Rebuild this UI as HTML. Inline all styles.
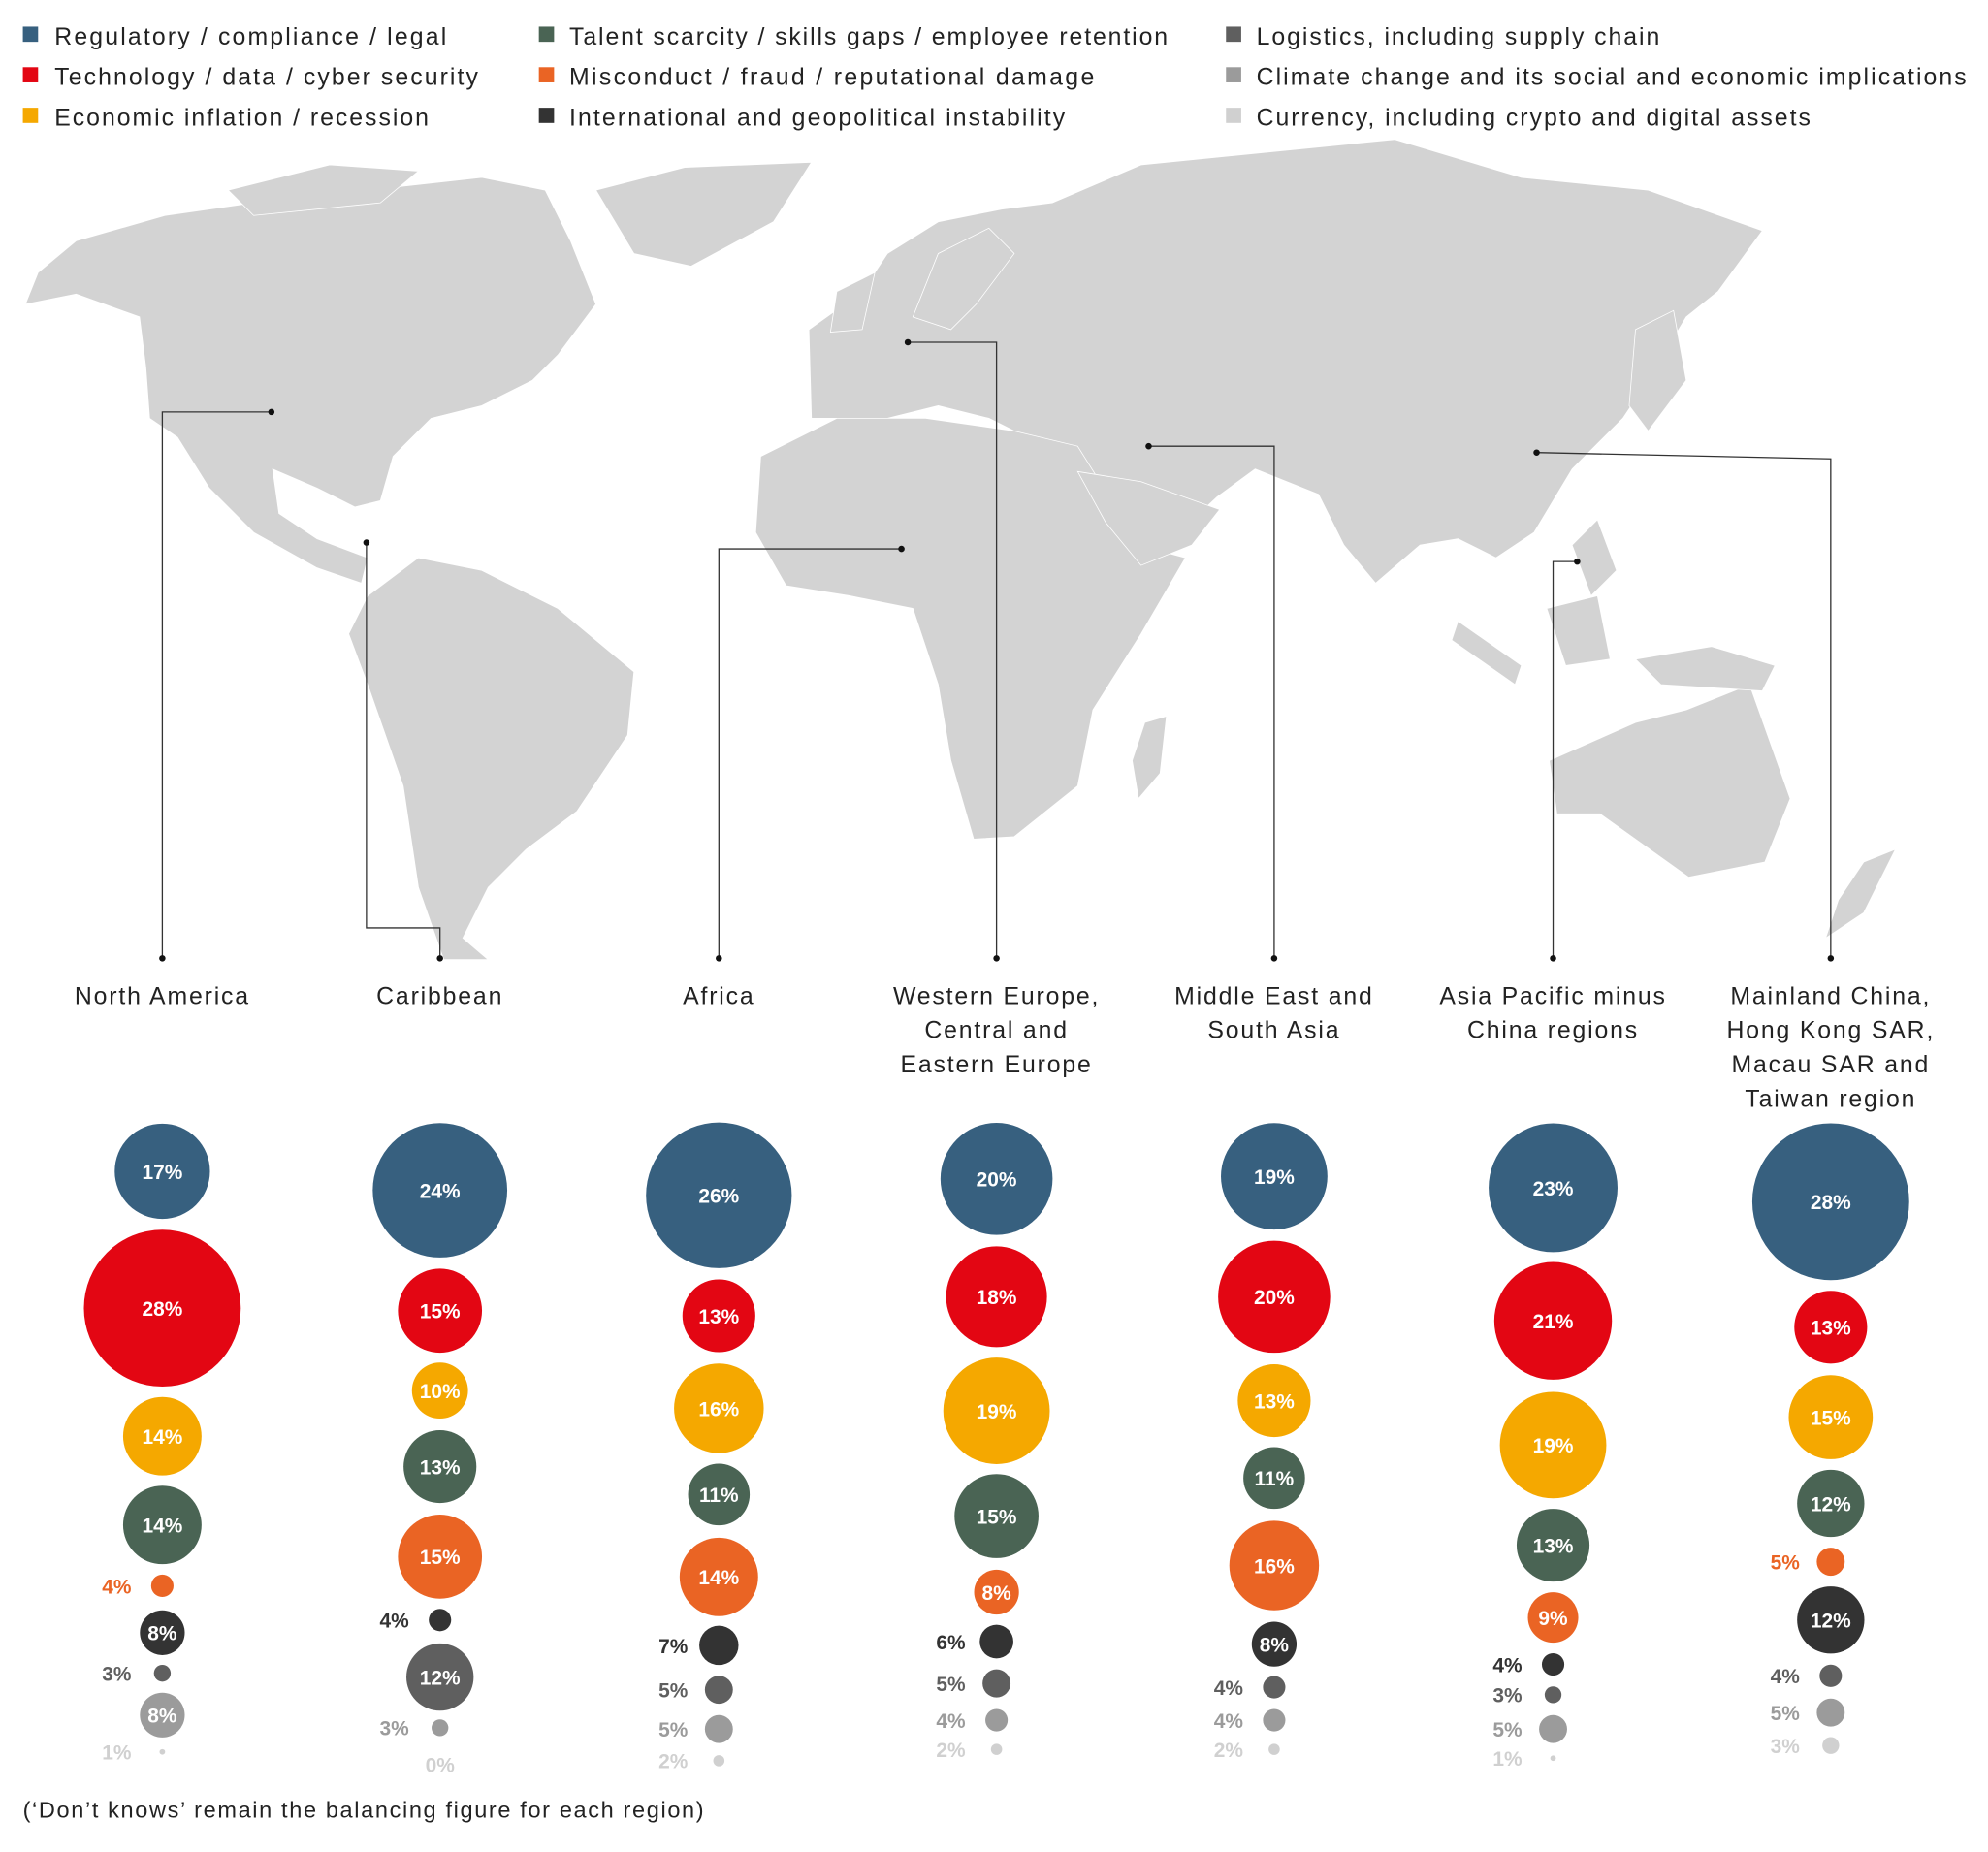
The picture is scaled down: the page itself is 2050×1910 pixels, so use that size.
<!DOCTYPE html>
<html><head><meta charset="utf-8"><style>
html,body{margin:0;padding:0;background:#fff}
svg{display:block}
text{font-family:"Liberation Sans",sans-serif}
</style></head><body>
<svg width="2050" height="1910" viewBox="0 0 1568 1461" xmlns="http://www.w3.org/2000/svg">
<!-- legend -->
<g font-size="19" fill="#222" lengthAdjust="spacing">
<rect x="18" y="21" width="12" height="12" fill="#37607f"/><text x="43" y="35" textLength="309">Regulatory / compliance / legal</text>
<rect x="18" y="53" width="12" height="12" fill="#e30613"/><text x="43" y="67" textLength="334">Technology / data / cyber security</text>
<rect x="18" y="85" width="12" height="12" fill="#f5a800"/><text x="43" y="99" textLength="295">Economic inflation / recession</text>
<rect x="425" y="21" width="12" height="12" fill="#4a6454"/><text x="449" y="35" textLength="472">Talent scarcity / skills gaps / employee retention</text>
<rect x="425" y="53" width="12" height="12" fill="#ea6424"/><text x="449" y="67" textLength="414">Misconduct / fraud / reputational damage</text>
<rect x="425" y="85" width="12" height="12" fill="#333"/><text x="449" y="99" textLength="391">International and geopolitical instability</text>
<rect x="967" y="21" width="12" height="12" fill="#5f5f5f"/><text x="991" y="35" textLength="318">Logistics, including supply chain</text>
<rect x="967" y="53" width="12" height="12" fill="#9b9b9b"/><text x="991" y="67" textLength="560">Climate change and its social and economic implications</text>
<rect x="967" y="85" width="12" height="12" fill="#d0d0d0"/><text x="991" y="99" textLength="437">Currency, including crypto and digital assets</text>
</g>
<!-- map -->
<g fill="#d3d3d3" stroke="#fff" stroke-width="0.6">
<path d="M20,240 L30,215 L60,190 L130,170 L200,160 L290,150 L380,140 L430,150 L450,190 L470,240 L440,280 L420,300 L380,320 L340,330 L310,360 L300,395 L280,400 L250,385 L215,370 L220,405 L250,425 L290,440 L285,460 L250,448 L200,420 L165,385 L140,345 L118,330 L115,290 L110,250 L60,232 Z"/>
<path d="M470,150 L540,132 L640,128 L610,175 L545,210 L500,200 Z"/>
<path d="M290,470 L330,440 L380,450 L440,480 L500,530 L495,580 L455,640 L415,670 L385,700 L365,740 L385,757 L350,757 L330,700 L318,620 L290,540 L275,500 Z"/>
<path d="M640,330 L638,260 L680,230 L700,200 L740,175 L790,165 L830,160 L900,130 L1000,120 L1100,110 L1200,140 L1300,150 L1390,182 L1355,230 L1330,250 L1300,300 L1280,330 L1240,370 L1210,420 L1180,440 L1150,425 L1120,430 L1085,460 L1060,430 L1040,390 L990,370 L960,392 L930,420 L880,410 L855,365 L820,350 L780,330 L740,320 L700,330 Z"/>
<path d="M720,250 L740,200 L780,180 L800,200 L770,240 L750,260 Z"/>
<path d="M660,230 L690,215 L680,260 L655,262 Z"/>
<path d="M600,360 L660,330 L730,330 L800,340 L850,352 L880,400 L905,432 L935,440 L900,500 L862,560 L850,620 L800,660 L768,662 L750,600 L740,540 L720,480 L670,470 L620,462 L596,420 Z"/>
<path d="M850,372 L900,380 L962,402 L940,430 L900,446 L872,412 Z"/>
<path d="M903,570 L920,565 L915,610 L898,630 L893,600 Z"/>
<path d="M1222,600 L1290,570 L1330,560 L1380,540 L1412,630 L1392,680 L1332,692 L1262,642 L1228,642 Z"/>
<path d="M1150,490 L1200,525 L1195,540 L1145,505 Z"/>
<path d="M1220,480 L1260,470 L1270,520 L1235,525 Z"/>
<path d="M1290,520 L1350,510 L1400,525 L1390,545 L1310,540 Z"/>
<path d="M1290,260 L1320,245 L1330,300 L1300,340 L1285,320 Z"/>
<path d="M1240,430 L1260,410 L1275,450 L1255,470 Z"/>
<path d="M1470,680 L1495,670 L1470,720 L1440,740 L1450,710 Z"/>
<path d="M180,150 L260,130 L330,135 L300,160 L200,170 Z"/>
</g>
<!-- leader lines -->
<g stroke="#333" stroke-width="1" fill="none">
<polyline points="214,325 128,325 128,756"/>
<polyline points="289,428 289,732 347,732 347,756"/>
<polyline points="711,433 567,433 567,756"/>
<polyline points="716,270 786,270 786,756"/>
<polyline points="906,352 1005,352 1005,756"/>
<polyline points="1244,443 1225,443 1225,756"/>
<polyline points="1212,357 1444,362 1444,756"/>
</g>
<g fill="#111">
<circle cx="214" cy="325" r="2.5"/><circle cx="128" cy="756" r="2.5"/>
<circle cx="289" cy="428" r="2.5"/><circle cx="347" cy="756" r="2.5"/>
<circle cx="711" cy="433" r="2.5"/><circle cx="567" cy="756" r="2.5"/>
<circle cx="716" cy="270" r="2.5"/><circle cx="786" cy="756" r="2.5"/>
<circle cx="906" cy="352" r="2.5"/><circle cx="1005" cy="756" r="2.5"/>
<circle cx="1244" cy="443" r="2.5"/><circle cx="1225" cy="756" r="2.5"/>
<circle cx="1212" cy="357" r="2.5"/><circle cx="1444" cy="756" r="2.5"/>
</g>
<!-- region labels -->
<g font-size="19" fill="#222" text-anchor="middle" letter-spacing="1.4">
<text x="128" y="792">North America</text>
<text x="347" y="792">Caribbean</text>
<text x="567" y="792">Africa</text>
<text x="786" y="792">Western Europe,</text><text x="786" y="819">Central and</text><text x="786" y="846">Eastern Europe</text>
<text x="1005" y="792">Middle East and</text><text x="1005" y="819">South Asia</text>
<text x="1225" y="792">Asia Pacific minus</text><text x="1225" y="819">China regions</text>
<text x="1444" y="792">Mainland China,</text><text x="1444" y="819">Hong Kong SAR,</text><text x="1444" y="846">Macau SAR and</text><text x="1444" y="873">Taiwan region</text>
</g>
<g id="bubbles" font-size="16" font-weight="bold" text-anchor="middle"></g>
<text x="18" y="1434" font-size="18" fill="#222" textLength="537" lengthAdjust="spacing">(‘Don’t knows’ remain the balancing figure for each region)</text>
</svg>
<script>
var C=["#37607f","#e30613","#f5a800","#4a6454","#ea6424","#333333","#5f5f5f","#9b9b9b","#d0d0d0"];
var D=[
[128,[[17,924],[28,1032],[14,1133],[14,1203],[4,1251],[8,1288],[3,1320],[8,1353],[1,1382]]],
[347,[[24,939],[15,1034],[10,1097],[13,1157],[15,1228],[4,1278],[12,1323],[3,1363],[0,1392]]],
[567,[[26,943],[13,1038],[16,1111],[11,1179],[14,1244],[7,1298],[5,1333],[5,1364],[2,1389]]],
[786,[[20,930],[18,1023],[19,1113],[15,1196],[8,1256],[6,1295],[5,1328],[4,1357],[2,1380]]],
[1005,[[19,928],[20,1023],[13,1105],[11,1166],[16,1235],[8,1297],[4,1331],[4,1357],[2,1380]]],
[1225,[[23,937],[21,1042],[19,1140],[13,1219],[9,1276],[4,1313],[3,1337],[5,1364],[1,1387]]],
[1444,[[28,948],[13,1047],[15,1118],[12,1186],[5,1232],[12,1278],[4,1322],[5,1351],[3,1377]]]];
var s="";
D.forEach(function(col){var x=col[0];col[1].forEach(function(b,i){var p=b[0],y=b[1],r=p*2.21,c=C[i];
if(p==0){s+='<text x="'+x+'" y="'+(y+6)+'" fill="'+c+'">0%</text>';return;}
if(r<2)r=2;
s+='<circle cx="'+x+'" cy="'+y+'" r="'+r+'" fill="'+c+'"/>';
if(p>=8)s+='<text x="'+x+'" y="'+(y+6)+'" fill="#fff">'+p+'%</text>';
else s+='<text x="'+(x-36)+'" y="'+(y+6)+'" fill="'+c+'">'+p+'%</text>';});});
document.getElementById("bubbles").innerHTML=s;
</script>
</body></html>
